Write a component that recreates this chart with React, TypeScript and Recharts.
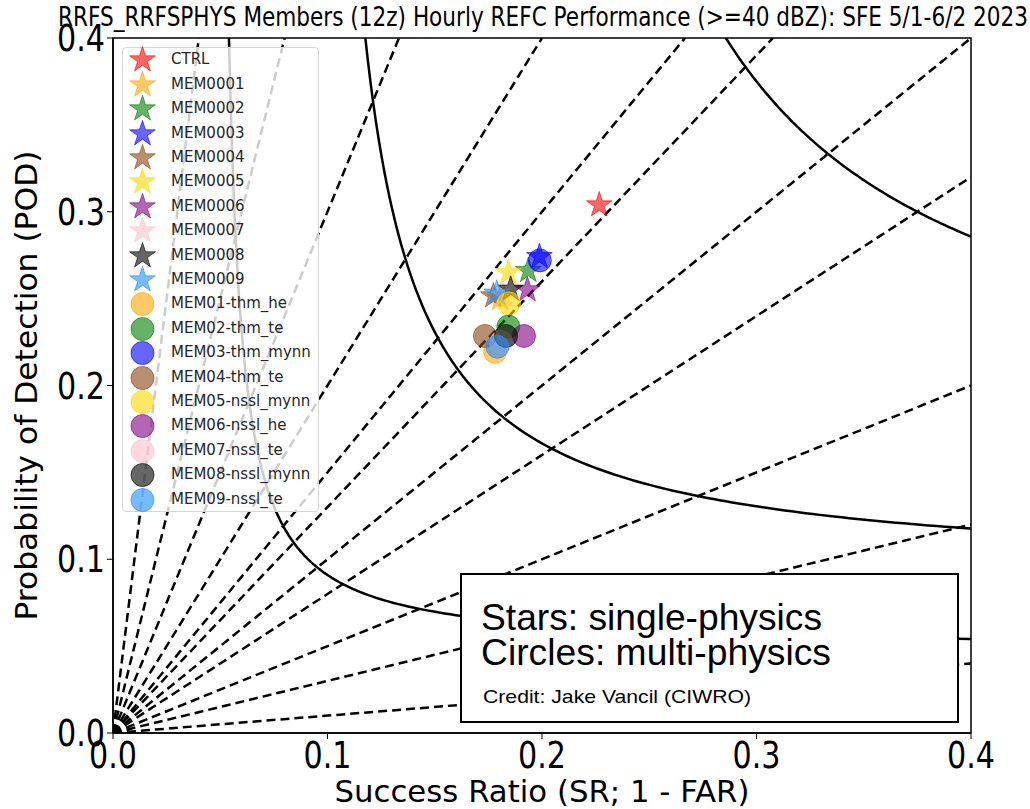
import React from 'react';
import { ScatterChart, Scatter, XAxis, YAxis, Legend, ReferenceArea, Label } from 'recharts';

// single-physics members (stars)
const starNames = ['CTRL', 'MEM0001', 'MEM0002', 'MEM0003', 'MEM0004', 'MEM0005', 'MEM0006', 'MEM0007', 'MEM0008', 'MEM0009'];
const starColors = ['#ff0000', '#ffa500', '#008000', '#0000ff', '#8b4513', '#ffd700', '#800080', '#ffc0cb', '#000000', '#1e90ff'];
const starSR = [0.2267, 0.1805, 0.1936, 0.1988, 0.1773, 0.1843, 0.1932, 0.1820, 0.1854, 0.1789];
const starPOD = [0.3039, 0.2500, 0.2661, 0.2741, 0.2515, 0.2649, 0.2550, 0.2520, 0.2554, 0.2531];

// multi-physics members (circles)
const circleNames = ['MEM01-thm_he', 'MEM02-thm_te', 'MEM03-thm_mynn', 'MEM04-thm_te', 'MEM05-nssl_mynn', 'MEM06-nssl_he', 'MEM07-nssl_te', 'MEM08-nssl_mynn', 'MEM09-nssl_te'];
const circleColors = ['#ffa500', '#008000', '#0000ff', '#8b4513', '#ffd700', '#800080', '#ffc0cb', '#000000', '#1e90ff'];
const circleSR = [0.1781, 0.1843, 0.1990, 0.1734, 0.1846, 0.1916, 0.1810, 0.1832, 0.1792];
const circlePOD = [0.2194, 0.2339, 0.2720, 0.2285, 0.2473, 0.2285, 0.2250, 0.2285, 0.2223];

// background of the performance diagram
const biasValues = [0.1, 0.3, 0.5, 0.8, 1, 1.3, 1.5, 2, 3, 5, 10];
const csiLevels = [0.05, 0.1, 0.2];
const axisTicks = [0, 0.1, 0.2, 0.3, 0.4];
const AX_MAX = 0.4;

const TITLE = 'RRFS_RRFSPHYS Members (12z) Hourly REFC Performance (>=40 dBZ): SFE 5/1-6/2 2023';
const ALPHA = 0.6;

// bias line: from the origin to where it leaves the square
const biasLine = (b: number) =>
  b >= 1 ? [{ x: 0, y: 0 }, { x: AX_MAX / b, y: AX_MAX }] : [{ x: 0, y: 0 }, { x: AX_MAX, y: AX_MAX * b }];

// CSI contour: POD = 1 / (1/CSI - 1/SR + 1)
const csiCurve = (c: number) => {
  const sMin = 1 / (1 / c + 1 - 1 / AX_MAX);
  const pts = [];
  const n = 120;
  for (let i = 0; i <= n; i++) {
    const sr = sMin * Math.pow(AX_MAX / sMin, i / n);
    pts.push({ x: sr, y: 1 / (1 / c - 1 / sr + 1) });
  }
  return pts;
};

const starPoints = (cx: number, cy: number, R: number) => {
  const pts: string[] = [];
  for (let i = 0; i < 10; i++) {
    const r = i % 2 === 0 ? R : R * 0.381966;
    const a = -Math.PI / 2 + (i * Math.PI) / 5;
    pts.push(`${cx + r * Math.cos(a)},${cy + r * Math.sin(a)}`);
  }
  return pts.join(' ');
};

const StarMark = ({ cx, cy, fill }: any) => (
  <polygon points={starPoints(cx, cy, 13.5)} fill={fill} fillOpacity={ALPHA} stroke={fill} strokeOpacity={ALPHA} strokeWidth={1} />
);

const CircleMark = ({ cx, cy, fill }: any) => (
  <circle cx={cx} cy={cy} r={11.5} fill={fill} fillOpacity={ALPHA} stroke={fill} strokeOpacity={ALPHA} strokeWidth={1} />
);

const NoMark = () => <g />;

const XTick = ({ x, y, payload }: any) => (
  <text x={x} y={y + 27} textAnchor="middle" fontSize={37} fontFamily="DejaVu Sans" fill="#000"
    textLength={48} lengthAdjust="spacingAndGlyphs">
    {Number(payload.value).toFixed(1)}
  </text>
);

const YTick = ({ x, y, payload }: any) => (
  <text x={x} y={y + 13} textAnchor="end" fontSize={37} fontFamily="DejaVu Sans" fill="#000"
    textLength={48} lengthAdjust="spacingAndGlyphs">
    {Number(payload.value).toFixed(1)}
  </text>
);

const LegendBox = ({ payload }: any) => {
  const items = (payload || []).filter((p: any) => p.type !== 'none');
  return (
    <div style={{
      width: 195, height: 463, background: 'rgba(255,255,255,0.8)', border: '1px solid #d6d6d6',
      borderRadius: 4, position: 'relative', fontFamily: 'DejaVu Sans', fontSize: 15, color: '#262626',
    }}>
      {items.map((p: any, i: number) => (
        <div key={p.value} style={{ position: 'absolute', left: 0, top: 12.3 + i * 24.4 - 12, height: 24, width: 195 }}>
          <svg width={40} height={28} style={{ position: 'absolute', left: 0, top: -2 }}>
            {p.type === 'star' ? <StarMark cx={19.5} cy={14} fill={p.color} /> : <CircleMark cx={19.5} cy={14} fill={p.color} />}
          </svg>
          <span style={{ position: 'absolute', left: 48, top: 2, whiteSpace: 'nowrap' }}>{p.value}</span>
        </div>
      ))}
    </div>
  );
};

export default function App() {
  return (
    <div style={{ position: 'absolute', left: 0, top: 0, width: 1030, height: 809, background: '#fff' }}>
      <ScatterChart width={1030} height={809} margin={{ top: 38, right: 59, bottom: 6, left: 3 }}>
        <XAxis type="number" dataKey="x" domain={[0, AX_MAX]} ticks={axisTicks} allowDataOverflow height={70}
          tick={<XTick />} tickSize={6} tickMargin={2} tickLine={{ stroke: '#000' }} axisLine={{ stroke: '#000', strokeWidth: 1.5 }}>
          <Label content={({ viewBox }: any) => (
            <text x={viewBox.x + viewBox.width / 2} y={viewBox.y + 69} textAnchor="middle" fontSize={31}
              fontFamily="DejaVu Sans" fill="#000" textLength={415} lengthAdjust="spacingAndGlyphs">
              Success Ratio (SR; 1 - FAR)
            </text>
          )} />
        </XAxis>
        <YAxis type="number" dataKey="y" domain={[0, AX_MAX]} ticks={axisTicks} allowDataOverflow width={110}
          tick={<YTick />} tickSize={6} tickMargin={2} tickLine={{ stroke: '#000' }} axisLine={{ stroke: '#000', strokeWidth: 1.5 }}>
          <Label content={({ viewBox }: any) => {
            const cx = viewBox.x + viewBox.width - 76;
            const cy = viewBox.y + viewBox.height / 2;
            return (
              <text x={cx} y={cy} transform={`rotate(-90, ${cx}, ${cy})`} textAnchor="middle" fontSize={31}
                fontFamily="DejaVu Sans" fill="#000" textLength={470} lengthAdjust="spacingAndGlyphs">
                Probability of Detection (POD)
              </text>
            );
          }} />
        </YAxis>
        <ReferenceArea x1={0} x2={AX_MAX} y1={0} y2={AX_MAX} fill="none" stroke="#000" strokeWidth={1.5} ifOverflow="visible" />
        {biasValues.map((b) => (
          <Scatter key={`bias-${b}`} name={`bias ${b}`} data={biasLine(b)} legendType="none" shape={<NoMark />}
            line={{ stroke: '#000', strokeWidth: 2.5, strokeDasharray: '9 5' }} isAnimationActive={false} />
        ))}
        {csiLevels.map((c) => (
          <Scatter key={`csi-${c}`} name={`csi ${c}`} data={csiCurve(c)} legendType="none" shape={<NoMark />}
            line={{ stroke: '#000', strokeWidth: 2.5 }} isAnimationActive={false} />
        ))}
        {starNames.map((n, i) => (
          <Scatter key={n} name={n} data={[{ x: starSR[i], y: starPOD[i] }]} fill={starColors[i]} legendType="star"
            shape={<StarMark />} isAnimationActive={false} />
        ))}
        {circleNames.map((n, i) => (
          <Scatter key={n} name={n} data={[{ x: circleSR[i], y: circlePOD[i] }]} fill={circleColors[i]} legendType="circle"
            shape={<CircleMark />} isAnimationActive={false} />
        ))}
        <Legend layout="vertical" align="center" verticalAlign="middle" content={<LegendBox />}
          wrapperStyle={{ left: 122, top: 47, width: 197, height: 465 }} />
      </ScatterChart>
      <svg width={1030} height={809} style={{ position: 'absolute', left: 0, top: 0, pointerEvents: 'none' }}>
        <text x={543} y={26} textAnchor="middle" fontSize={26} fontFamily="DejaVu Sans" fill="#000"
          textLength={970} lengthAdjust="spacingAndGlyphs">{TITLE}</text>
        <rect x={461} y={574} width={497} height={148} fill="#fff" stroke="#000" strokeWidth={2} />
        <text x={481} y={630} fontSize={36} fontFamily="Liberation Sans" fill="#000" textLength={341} lengthAdjust="spacingAndGlyphs">
          Stars: single-physics
        </text>
        <text x={481} y={665} fontSize={36} fontFamily="Liberation Sans" fill="#000" textLength={350} lengthAdjust="spacingAndGlyphs">
          Circles: multi-physics
        </text>
        <text x={483} y={703} fontSize={19} fontFamily="Liberation Sans" fill="#000" textLength={268} lengthAdjust="spacingAndGlyphs">
          Credit: Jake Vancil (CIWRO)
        </text>
      </svg>
    </div>
  );
}
